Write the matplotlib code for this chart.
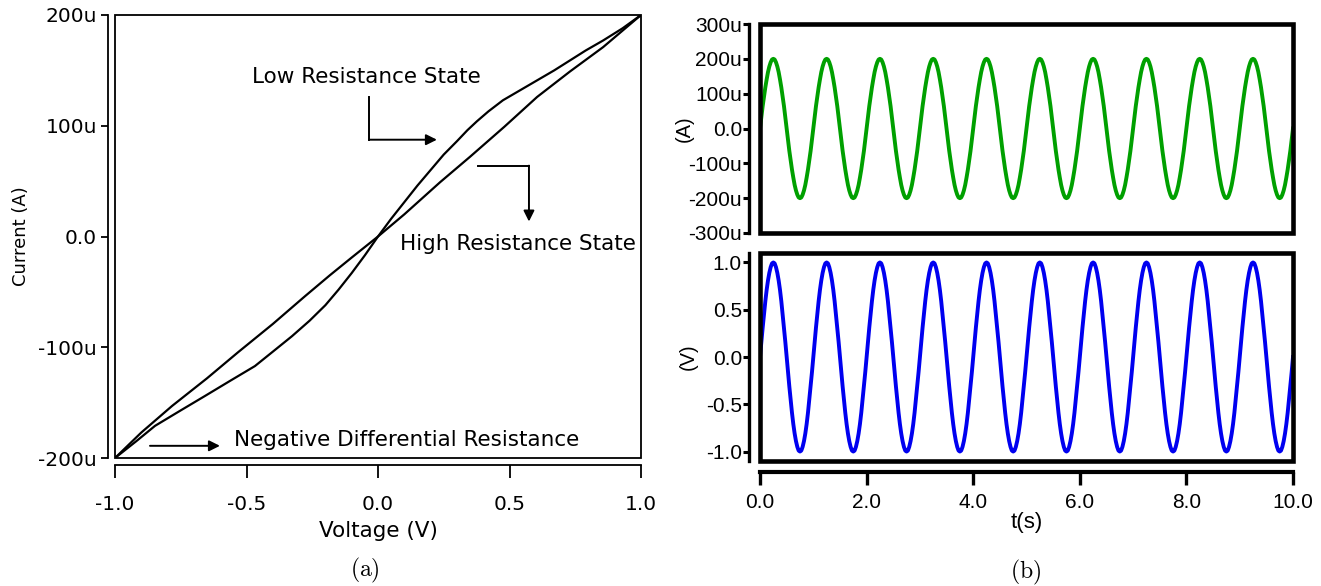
"""
Memristor characteristics: pinched I-V hysteresis loop (a) and the
current / voltage waveforms over time (b).
"""

import numpy as np
import matplotlib
matplotlib.use("Agg")
import matplotlib.pyplot as plt
from matplotlib.patches import Rectangle

plt.rcParams['mathtext.fontset'] = 'cm'

# --- (a) I-V loop, current in uA -------------------------------------------
# low resistance (S-shaped) branch
lrs_v = [-1.0, -0.92, -0.848, -0.75, -0.658, -0.56, -0.468, -0.40, -0.327,
         -0.26, -0.20, -0.15, -0.10, -0.05, 0.0, 0.05, 0.10, 0.15, 0.20,
         0.25, 0.30, 0.34, 0.376, 0.42, 0.475, 0.54, 0.605, 0.67, 0.730,
         0.79, 0.856, 0.93, 1.0]
lrs_i = [-200, -185, -171, -157, -144, -130, -117, -104, -90,
         -76, -62, -48, -33, -17, 0, 16, 31, 46, 60,
         74, 86, 96, 104, 113, 123, 132, 141, 150, 159,
         168, 177, 188, 200]

# high resistance (near linear) branch
hrs_v = [-1.0, -0.9, -0.783, -0.65, -0.532, -0.40, -0.278, -0.183, -0.10,
         0.0, 0.10, 0.236, 0.35, 0.48, 0.605, 0.73, 0.856, 1.0]
hrs_i = [-200, -177, -153, -128, -104.5, -79, -54, -35, -19,
         0, 20, 49, 72, 99, 126, 149, 171, 200]

iv_xticks = [-1.0, -0.5, 0.0, 0.5, 1.0]
iv_xlabels = ['-1.0', '-0.5', '0.0', '0.5', '1.0']
iv_yticks = [-200, -100, 0, 100, 200]
iv_ylabels = ['-200u', '-100u', '0.0', '100u', '200u']

# --- (b) one period of the waveforms (1 s, 40 samples), repeated 10x --------
v_period = [0, 0.16, 0.31, 0.45, 0.59, 0.71, 0.81, 0.89, 0.95, 0.99,
            1.0, 0.99, 0.95, 0.89, 0.81, 0.71, 0.59, 0.45, 0.31, 0.16,
            0, -0.16, -0.31, -0.45, -0.59, -0.71, -0.81, -0.89, -0.95, -0.99,
            -1.0, -0.99, -0.95, -0.89, -0.81, -0.71, -0.59, -0.45, -0.31, -0.16]
i_period = [0, 33, 64, 92, 118, 141, 162, 178, 190, 198,
            200, 198, 190, 178, 162, 141, 118, 92, 64, 33,
            0, -33, -64, -92, -118, -141, -162, -178, -190, -198,
            -200, -198, -190, -178, -162, -141, -118, -92, -64, -33]
n_periods = 10

t_ticks = [0, 2, 4, 6, 8, 10]
t_labels = ['0.0', '2.0', '4.0', '6.0', '8.0', '10.0']
i_ticks = [-300, -200, -100, 0, 100, 200, 300]
i_labels = ['-300u', '-200u', '-100u', '0.0', '100u', '200u', '300u']
v_ticks = [-1.0, -0.5, 0.0, 0.5, 1.0]
v_labels = ['-1.0', '-0.5', '0.0', '0.5', '1.0']

volt = np.append(np.tile(v_period, n_periods), 0)
curr = np.append(np.tile(i_period, n_periods), 0)
t = np.linspace(0, n_periods, len(volt))

W, H = 1321, 586
fig = plt.figure(figsize=(W / 100, H / 100), dpi=100)


def px_axes(x0, y0, x1, y1):
    return fig.add_axes([x0 / W, 1 - y1 / H, (x1 - x0) / W, (y1 - y0) / H])


# ---------------------------------------------------------------- panel (a)
ax = px_axes(115, 15, 641, 458)
LEFT_FONT = 'DejaVu Sans'
ax.plot(lrs_v, lrs_i, color='k', lw=1.6)
ax.plot(hrs_v, hrs_i, color='k', lw=1.6)
ax.set_xlim(-1, 1)
ax.set_ylim(-200, 200)
ax.add_patch(Rectangle((0, 0), 1, 1, transform=ax.transAxes, fill=False,
                       lw=1.3, color='k', clip_on=False))
for s in ('top', 'right'):
    ax.spines[s].set_visible(False)
ax.spines['left'].set_position(('outward', 5))
ax.spines['bottom'].set_position(('outward', 5))
for s in ('left', 'bottom'):
    ax.spines[s].set_linewidth(1.3)
ax.set_xticks(iv_xticks, iv_xlabels, fontsize=14.5, family=LEFT_FONT)
ax.set_yticks(iv_yticks, iv_ylabels, fontsize=14.5, family=LEFT_FONT)
ax.tick_params(axis='y', length=5, width=1.3, pad=3)
ax.tick_params(axis='x', length=9, width=1.3, pad=13)
ax.set_xlabel('Voltage (V)', fontsize=15.5, family=LEFT_FONT, labelpad=5)
ax.set_ylabel('Current (A)', fontsize=13, family=LEFT_FONT, labelpad=6)

arrow = dict(arrowstyle='-|>', color='k', lw=1.4, mutation_scale=16,
             shrinkA=0, shrinkB=0)
ax.text(-0.479, 144, 'Low Resistance State', fontsize=15.5, family=LEFT_FONT,
        ha='left', va='center')
ax.plot([-0.034, -0.034], [126, 87.4], color='k', lw=1.4)
ax.annotate('', xy=(0.224, 87.4), xytext=(-0.034, 87.4), arrowprops=arrow)

ax.text(0.084, -7.2, 'High Resistance State', fontsize=15.5, family=LEFT_FONT,
        ha='left', va='center')
ax.plot([0.380, 0.574], [64, 64], color='k', lw=1.4)
ax.annotate('', xy=(0.574, 13.5), xytext=(0.574, 64), arrowprops=arrow)

ax.text(-0.548, -184, 'Negative Differential Resistance', fontsize=15.5,
        family=LEFT_FONT, ha='left', va='center')
ax.annotate('', xy=(-0.601, -189), xytext=(-0.867, -189), arrowprops=arrow)

# ---------------------------------------------------------------- panel (b)
RIGHT_FONT = 'Liberation Sans'
axi = px_axes(760, 24, 1293, 233)
axv = px_axes(760, 253, 1293, 461)

axi.plot(t, curr, color='#00a000', lw=2.8)
axv.plot(t, volt, color='#0000f0', lw=2.8)

for a in (axi, axv):
    a.set_xlim(0, n_periods)
    a.add_patch(Rectangle((0, 0), 1, 1, transform=a.transAxes, fill=False,
                          lw=3.3, color='k', clip_on=False, zorder=5))
    for s in ('top', 'right'):
        a.spines[s].set_visible(False)
    a.spines['left'].set_position(('outward', 8))
    a.spines['left'].set_linewidth(2.4)
    a.tick_params(axis='y', length=4, width=2.2, pad=1, labelsize=15)

axi.set_ylim(-300, 300)
axi.set_yticks(i_ticks, i_labels, family=RIGHT_FONT)
axi.spines['bottom'].set_visible(False)
axi.set_xticks([])
axi.set_ylabel('(A)', fontsize=14.5, family=RIGHT_FONT, labelpad=-4)

axv.set_ylim(-1.1, 1.1)
axv.set_yticks(v_ticks, v_labels, family=RIGHT_FONT)
axv.spines['bottom'].set_position(('outward', 8))
axv.spines['bottom'].set_linewidth(3.0)
axv.set_xticks(t_ticks, t_labels, family=RIGHT_FONT)
axv.tick_params(axis='x', length=9, width=2.4, pad=6, labelsize=15)
axv.set_xlabel('t(s)', fontsize=16, family=RIGHT_FONT, labelpad=0)
axv.set_ylabel('(V)', fontsize=14.5, family=RIGHT_FONT, labelpad=6)

fig.text(365 / W, 1 - 570 / H, r'$\mathrm{(a)}$', fontsize=17,
         ha='center', va='center')
fig.text(1026 / W, 1 - 572 / H, r'$\mathrm{(b)}$', fontsize=17,
         ha='center', va='center')

fig.savefig('out.png', dpi=100)
